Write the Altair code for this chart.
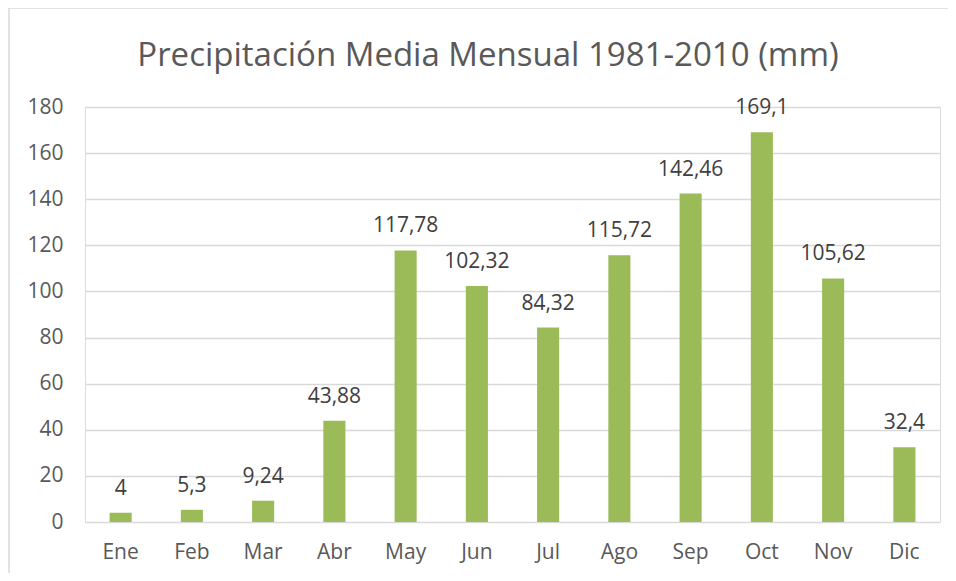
import altair as alt
import pandas as pd

months = ["Ene", "Feb", "Mar", "Abr", "May", "Jun", "Jul", "Ago", "Sep", "Oct", "Nov", "Dic"]
precip = [4, 5.3, 9.24, 43.88, 117.78, 102.32, 84.32, 115.72, 142.46, 169.1, 105.62, 32.4]
y_ticks = [0, 20, 40, 60, 80, 100, 120, 140, 160, 180]
title_text = "Precipitación Media Mensual 1981-2010 (mm)"

df = pd.DataFrame({
    "mes": months,
    "valor": precip,
    "etiqueta": [("%g" % v).replace(".", ",") for v in precip],
})

FONT = "Open Sans"
GREY = "#595959"

base = alt.Chart(df)

x = alt.X("mes:N", sort=months,
          scale=alt.Scale(paddingInner=0.69, paddingOuter=0.345),
          axis=alt.Axis(title=None, labelAngle=0, labelFont=FONT, labelFontSize=21,
                        labelColor=GREY, labelPadding=19, ticks=False, domain=False,
                        grid=False))
y = alt.Y("valor:Q",
          scale=alt.Scale(domain=[0, 180], nice=False),
          axis=alt.Axis(title=None, values=y_ticks, labelFont=FONT, labelFontSize=21,
                        labelColor=GREY, labelPadding=22, ticks=False, domain=False,
                        grid=True, gridColor="#d9d9d9", gridWidth=1.3))

bars = base.mark_bar(color="#9BBB59").encode(x=x, y=y)

labels = base.mark_text(font=FONT, fontSize=21, color="#404040", baseline="alphabetic", dy=-18).encode(
    x=alt.X("mes:N", sort=months), y="valor:Q", text="etiqueta:N")

title = alt.Chart(pd.DataFrame({"t": [title_text]})).mark_text(
    font=FONT, fontSize=33, color=GREY, align="center", baseline="alphabetic"
).encode(x=alt.value(403), y=alt.value(-41), text="t:N")

border = alt.Chart(pd.DataFrame({"a": [0]})).mark_rect(
    fill=None, stroke="#d9d9d9", strokeWidth=1.5
).encode(x=alt.value(-76), x2=alt.value(950), y=alt.value(-99), y2=alt.value(600))

chart = alt.layer(border, bars, labels, title).properties(
    width=855, height=415,
    padding={"left": 77, "top": 99, "right": 8, "bottom": 51},
    autosize=alt.AutoSizeParams(type="none"),
).configure_view(stroke=None).configure(background="white")

chart.save("out.html", embed_options={"renderer": "svg", "actions": False})
